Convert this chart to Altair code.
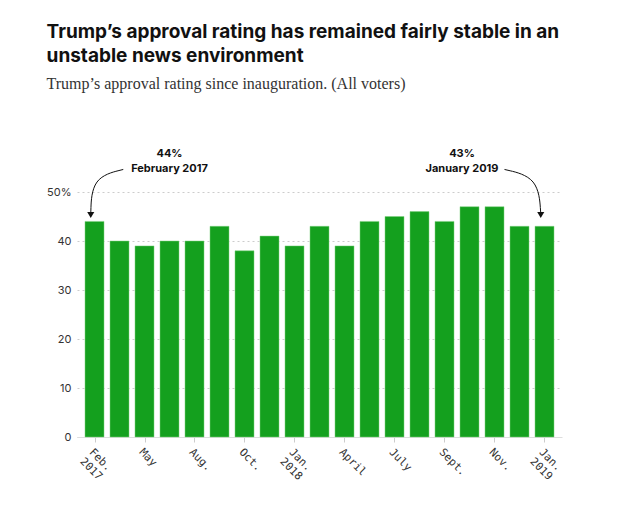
import altair as alt
import pandas as pd

labels = ["Feb.|2017", "April", "May", "June", "Aug.", "Sept.", "Oct.", "Dec.", "Jan.|2018",
          "Mar.", "April", "June", "July", "Aug.", "Sept.", "Oct.", "Nov.", "Dec.", "Jan.|2019"]
values = [44, 40, 39, 40, 40, 43, 38, 41, 39, 43, 39, 44, 45, 46, 44, 47, 47, 43, 43]

df = pd.DataFrame({"idx": list(range(len(values))), "v": values})
arr = "[" + ",".join("'" + l + "'" for l in labels) + "]"

x = alt.X("idx:Q", scale=alt.Scale(domain=[-0.5, 18.5], nice=False, zero=False),
          axis=alt.Axis(values=list(range(19)), labelExpr=f"split({arr}[datum.value], '|')",
                        labelAngle=45, labelAlign="left", labelBaseline="top", labelOverlap=False,
                        labelFont="DejaVu Sans Mono", labelFontSize=11, labelColor="#333",
                        grid=False, domain=True, domainColor="#ddd", tickColor="#ccc",
                        tickSize=5, title=None, labelPadding=4, labelBound=False))
y = alt.Y("v:Q", scale=alt.Scale(domain=[0, 50], nice=False),
          axis=alt.Axis(values=[0, 10, 20, 30, 40, 50],
                        labelExpr="datum.value == 50 ? '50%' : datum.label",
                        gridDash=[2, 3], gridColor="#ccc", domain=False, ticks=False,
                        labelFont="Inter", labelFontSize=11, labelColor="#333",
                        labelPadding=6, title=None))

bars = alt.Chart(df).mark_bar(color="#14a01e", size=19, stroke="#7fd07f", strokeWidth=0.5).encode(x=x, y=y)

ann = pd.DataFrame({"x": [3.0, 3.0, 14.7, 14.7], "y": [57.7, 54.6, 57.7, 54.6],
                    "t": ["44%", "February 2017", "43%", "January 2019"]})
text = alt.Chart(ann).mark_text(font="Inter", fontWeight="bold", fontSize=11, color="#111").encode(
    x="x:Q", y="y:Q", text="t:N")

arrows = pd.DataFrame({
    "a": [0, 0, 0, 1, 1, 1],
    "o": [0, 1, 2, 0, 1, 2],
    "x": [1.15, -0.1, -0.15, 16.4, 17.75, 17.85],
    "y": [54.6, 53.0, 45.6, 54.6, 53.0, 45.6]})
lines = alt.Chart(arrows).mark_line(interpolate="basis", color="#111", strokeWidth=1, clip=False).encode(
    x="x:Q", y="y:Q", detail="a:N", order="o:Q")
heads = alt.Chart(pd.DataFrame({"x": [-0.15, 17.85], "y": [45.3, 45.3]})).mark_point(
    shape="triangle-down", filled=True, color="#111", size=50, opacity=1).encode(x="x:Q", y="y:Q")

chart = alt.layer(bars, text, lines, heads).properties(
    width=485, height=245,
    title=alt.TitleParams(
        text=["Trump’s approval rating has remained fairly stable in an", "unstable news environment"],
        subtitle="Trump’s approval rating since inauguration. (All voters)",
        anchor="start", font="Inter", fontSize=19, fontWeight="bold", color="#111",
        lineHeight=24, subtitleFont="Liberation Serif", subtitleFontSize=16,
        subtitleColor="#333", subtitlePadding=10, offset=56)
).configure(padding={"left": 38, "top": 15, "right": 20, "bottom": 5}).configure_view(strokeWidth=0, stroke="transparent")

chart.save("out.html", embed_options={"renderer": "svg", "actions": False})
